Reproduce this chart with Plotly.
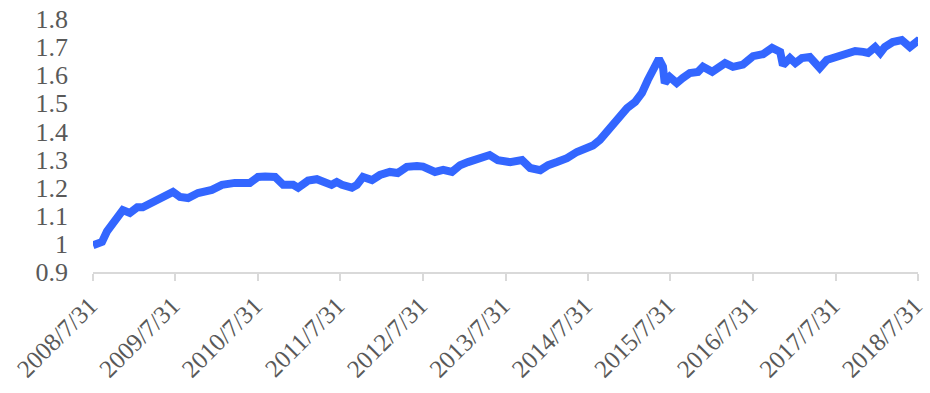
import plotly.graph_objects as go

dates = [
    "2008-07-31", "2008-09-09", "2008-10-01", "2008-10-15", "2008-11-15", "2008-12-10",
    "2009-01-10", "2009-02-12", "2009-03-08", "2009-04-18", "2009-06-01", "2009-07-20",
    "2009-08-20", "2009-09-25", "2009-11-08", "2010-01-08", "2010-02-22", "2010-04-20",
    "2010-06-25", "2010-07-31", "2010-09-01", "2010-10-15", "2010-11-20", "2011-01-03",
    "2011-01-25", "2011-03-10", "2011-04-18", "2011-05-22", "2011-06-22", "2011-07-15",
    "2011-08-07", "2011-09-20", "2011-10-12", "2011-11-08", "2011-12-18", "2012-01-22",
    "2012-03-06", "2012-04-10", "2012-05-20", "2012-07-04", "2012-07-31", "2012-09-22",
    "2012-10-28", "2012-12-06", "2013-01-11", "2013-02-15", "2013-04-08", "2013-05-22",
    "2013-06-27", "2013-08-20", "2013-10-12", "2013-11-17", "2014-01-01", "2014-02-05",
    "2014-03-16", "2014-04-29", "2014-06-12", "2014-07-26", "2014-08-22", "2014-09-22",
    "2014-11-05", "2014-12-10", "2015-01-20", "2015-02-25", "2015-03-27", "2015-04-22",
    "2015-05-22", "2015-06-10", "2015-06-28", "2015-07-06", "2015-07-28", "2015-08-28",
    "2015-09-24", "2015-10-25", "2015-11-30", "2015-12-22", "2016-02-01", "2016-02-23",
    "2016-03-29", "2016-05-03", "2016-06-16", "2016-07-31", "2016-09-13", "2016-10-23",
    "2016-11-28", "2016-12-10", "2017-01-10", "2017-02-03", "2017-03-04", "2017-04-08",
    "2017-05-09", "2017-05-22", "2017-06-22", "2017-08-07", "2017-09-12", "2017-10-26",
    "2017-11-30", "2017-12-22", "2018-01-22", "2018-02-14", "2018-03-06", "2018-04-10",
    "2018-05-20", "2018-06-25", "2018-07-27", "2018-07-31",
]

values = [
    0.995, 1.007, 1.045, 1.06, 1.085, 1.12,
    1.11, 1.13, 1.13, 1.149, 1.167, 1.185,
    1.167, 1.163, 1.181, 1.192, 1.21, 1.217,
    1.217, 1.238, 1.24, 1.238, 1.21, 1.21,
    1.20, 1.225, 1.23, 1.22, 1.21, 1.22,
    1.21, 1.20, 1.21, 1.238, 1.227, 1.245,
    1.256, 1.252, 1.274, 1.277, 1.275, 1.256,
    1.263, 1.256, 1.28, 1.291, 1.305, 1.316,
    1.298, 1.291, 1.298, 1.27, 1.262, 1.28,
    1.291, 1.305, 1.327, 1.341, 1.35, 1.37,
    1.412, 1.448, 1.483, 1.505, 1.537, 1.583,
    1.63, 1.658, 1.63, 1.572, 1.594, 1.572,
    1.59, 1.608, 1.612, 1.63, 1.612, 1.626,
    1.643, 1.63, 1.638, 1.668, 1.675, 1.697,
    1.683, 1.636, 1.661, 1.643, 1.661, 1.665,
    1.63, 1.626, 1.654, 1.665, 1.679, 1.686,
    1.683, 1.679, 1.70, 1.679, 1.70, 1.718,
    1.725, 1.70, 1.72, 1.718,
]

tick_dates = ["2008-07-31", "2009-07-31", "2010-07-31", "2011-07-31", "2012-07-31",
              "2013-07-31", "2014-07-31", "2015-07-31", "2016-07-31", "2017-07-31",
              "2018-07-31"]
tick_labels = ["2008/7/31", "2009/7/31", "2010/7/31", "2011/7/31", "2012/7/31",
               "2013/7/31", "2014/7/31", "2015/7/31", "2016/7/31", "2017/7/31",
               "2018/7/31"]
y_ticks = [0.9, 1.0, 1.1, 1.2, 1.3, 1.4, 1.5, 1.6, 1.7, 1.8]
y_labels = ["0.9", "1", "1.1", "1.2", "1.3", "1.4", "1.5", "1.6", "1.7", "1.8"]

FONT = "Liberation Serif"

fig = go.Figure()
fig.add_trace(go.Scatter(
    x=dates, y=values, mode="lines",
    line=dict(color="#3366ff", width=8),
    showlegend=False, hoverinfo="skip",
))

fig.update_layout(
    width=930, height=393,
    margin=dict(l=93, r=12, t=19, b=121, autoexpand=False),
    paper_bgcolor="white", plot_bgcolor="white",
    font=dict(family=FONT, size=26, color="#595959"),
    xaxis=dict(
        type="date",
        range=["2008-07-31", "2018-07-31"],
        tickmode="array", tickvals=tick_dates, ticktext=tick_labels,
        tickangle=-45, automargin=False, ticklabeloverflow="allow",
        ticklabelshift=-3,
        showgrid=False, zeroline=False,
        showline=True, linecolor="#d9d9d9", linewidth=2,
        ticks="outside", ticklen=7, tickcolor="#d9d9d9", tickwidth=2,
        tickfont=dict(family=FONT, size=25, color="#595959"),
    ),
    yaxis=dict(
        range=[0.9, 1.8], automargin=False,
        tickmode="array", tickvals=y_ticks, ticktext=y_labels,
        showgrid=False, zeroline=False, showline=False,
        ticks="", ticklabelstandoff=24,
        tickfont=dict(family=FONT, size=26, color="#595959"),
    ),
)

fig.write_html("out.html")
